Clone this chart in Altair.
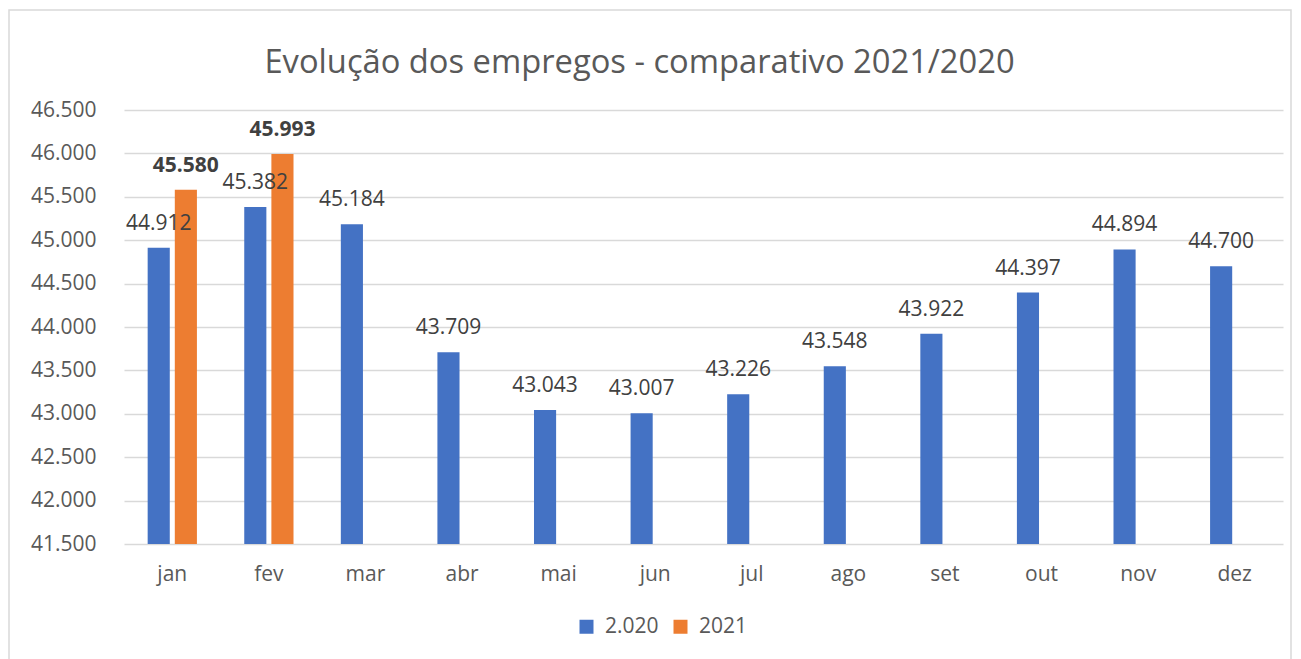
import altair as alt
import pandas as pd

meses = ["jan", "fev", "mar", "abr", "mai", "jun", "jul", "ago", "set", "out", "nov", "dez"]
serie_2020 = [44912, 45382, 45184, 43709, 43043, 43007, 43226, 43548, 43922, 44397, 44894, 44700]
serie_2021 = [45580, 45993]
series = ["2.020", "2021"]
y_ticks = [41500, 42000, 42500, 43000, 43500, 44000, 44500, 45000, 45500, 46000, 46500]
y_min, y_max = 41500, 46500

rows = []
for m, v in zip(meses, serie_2020):
    rows.append({"mes": m, "serie": series[0], "valor": v})
for m, v in zip(meses, serie_2021):
    rows.append({"mes": m, "serie": series[1], "valor": v})
df = pd.DataFrame(rows)

FONT = "Open Sans"
GRAY = "#595959"

x_enc = alt.X("mes:N", sort=meses, title=None,
              scale=alt.Scale(domain=meses, paddingInner=0.49, paddingOuter=0.245),
              axis=alt.Axis(labelAngle=0, ticks=False, domain=False, labelFontSize=21,
                            labelColor=GRAY, labelFont=FONT, labelPadding=19))
xoff = alt.XOffset("serie:N", scale=alt.Scale(domain=series, paddingInner=0.185, paddingOuter=0))
y_enc = alt.Y("valor:Q", title=None,
              scale=alt.Scale(domain=[y_min, y_max], nice=False, zero=False),
              axis=alt.Axis(values=y_ticks, ticks=False, domain=False, labelFontSize=21,
                            labelColor=GRAY, labelFont=FONT, labelPadding=28,
                            gridColor="#d9d9d9", gridWidth=1.3,
                            labelExpr="replace(format(datum.value, ','), ',', '.')"))

base = alt.Chart(df)

bars = base.mark_bar().encode(
    x=x_enc, xOffset=xoff, y=y_enc, y2=alt.datum(y_min),
    color=alt.Color("serie:N", scale=alt.Scale(domain=series, range=["#4472C4", "#ED7D31"]),
                    legend=alt.Legend(title=None, orient="none", direction="horizontal",
                                      legendX=452, legendY=506, symbolType="square",
                                      symbolSize=196, symbolStrokeWidth=0, labelFontSize=21,
                                      labelColor=GRAY, labelFont=FONT, labelOffset=8,
                                      columnPadding=11)),
)

labels = base.transform_calculate(
    rotulo="replace(format(datum.valor, ','), ',', '.')"
)

txt2020 = labels.transform_filter(alt.datum.serie == "2.020").mark_text(
    baseline="alphabetic", dy=-18, fontSize=21, font=FONT, color="#404040"
).encode(x=x_enc, xOffset=xoff, y=y_enc, text="rotulo:N")

txt2021 = labels.transform_filter(alt.datum.serie == "2021").mark_text(
    baseline="alphabetic", dy=-18, fontSize=21, font=FONT, color="#404040", fontWeight="bold"
).encode(x=x_enc, xOffset=xoff, y=y_enc, text="rotulo:N")

border = alt.Chart(alt.Data(values=[{"a": 1}])).mark_rect(
    fill=None, stroke="#d9d9d9", strokeWidth=1.5, clip=False
).encode(x=alt.value(-115), x2=alt.value(1167), y=alt.value(-100), y2=alt.value(560))

chart = alt.layer(border, bars, txt2020, txt2021).properties(
    width=1159, height=434,
    autosize=alt.AutoSizeParams(type="none"),
    padding={"left": 116, "top": 102, "right": 10, "bottom": 115},
    title=alt.Title("Evolução dos empregos - comparativo 2021/2020", fontSize=32.7,
                    font=FONT, color=GRAY, fontWeight="normal", anchor="middle",
                    baseline="alphabetic", dx=-64, dy=96, offset=0),
).configure_view(stroke=None)

chart.save("out.html", embed_options={"renderer": "svg", "actions": False})
